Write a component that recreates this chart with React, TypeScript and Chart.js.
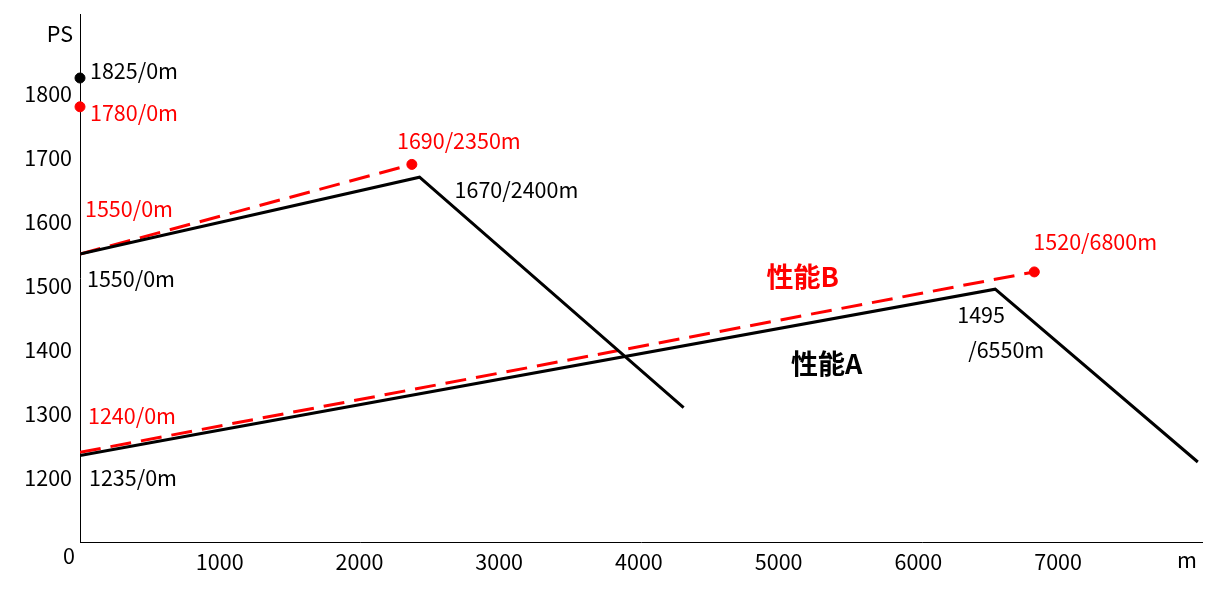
import { useEffect, useRef } from 'react';
import { Chart, ChartConfiguration, Plugin, registerables } from 'chart.js';

Chart.register(...registerables);

// Performance A (black, solid)
const altitudeA1 = [0, 2430, 4320];
const powerA1 = [1550, 1670, 1310];
const altitudeA2 = [0, 6550, 8000];
const powerA2 = [1235, 1495, 1225];

// Performance B (red, dashed)
const altitudeB1 = [0, 2375];
const powerB1 = [1550, 1690];
const altitudeB2 = [0, 6830];
const powerB2 = [1240, 1522];

// Single marked points
const pointAltitudes = [0, 0, 2375, 6830];
const pointPowers = [1825, 1780, 1690, 1522];
const pointColors = ['#000000', '#ff0000', '#ff0000', '#ff0000'];

// Axis ticks
const xTickValues = [1000, 2000, 3000, 4000, 5000, 6000, 7000];
const yTickValues = [1200, 1300, 1400, 1500, 1600, 1700, 1800];

const RED = '#ff0000';
const FONT = '"Noto Sans CJK JP", "Noto Sans", sans-serif';
const TEXT_SIZE = 21.5;

const toXY = (xs: number[], ys: number[]) => xs.map((x, i) => ({ x, y: ys[i] }));

// text labels anchored at data points, shifted by a pixel offset
const annotations = [
  { text: '1825/0m', x: 0, y: 1825, dx: 10, dy: -7, align: 'left', color: '#000', bold: false },
  { text: '1780/0m', x: 0, y: 1780, dx: 10, dy: 6, align: 'left', color: RED, bold: false },
  { text: '1690/2350m', x: 2375, y: 1690, dx: 47, dy: -24, align: 'center', color: RED, bold: false },
  { text: '1670/2400m', x: 2430, y: 1670, dx: 35, dy: 13, align: 'left', color: '#000', bold: false },
  { text: '1550/0m', x: 0, y: 1550, dx: 5, dy: -45, align: 'left', color: RED, bold: false },
  { text: '1550/0m', x: 0, y: 1550, dx: 7, dy: 25, align: 'left', color: '#000', bold: false },
  { text: '1520/6800m', x: 6830, y: 1522, dx: -1, dy: -30, align: 'left', color: RED, bold: false },
  { text: '性能B', x: 5000, y: 1515, dx: 24, dy: 0, align: 'center', color: RED, bold: true },
  { text: '1495', x: 6550, y: 1495, dx: -38, dy: 26, align: 'left', color: '#000', bold: false },
  { text: '/6550m', x: 6550, y: 1495, dx: -27, dy: 61, align: 'left', color: '#000', bold: false },
  { text: '性能A', x: 5000, y: 1378, dx: 48, dy: 0, align: 'center', color: '#000', bold: true },
  { text: '1240/0m', x: 0, y: 1240, dx: 8, dy: -37, align: 'left', color: RED, bold: false },
  { text: '1235/0m', x: 0, y: 1235, dx: 9, dy: 22, align: 'left', color: '#000', bold: false },
];

const labelPlugin: Plugin = {
  id: 'labels',
  afterDatasetsDraw(chart) {
    const { ctx, scales, chartArea } = chart;
    const xs = scales.x;
    const ys = scales.y;
    ctx.save();
    ctx.textBaseline = 'middle';
    annotations.forEach((a) => {
      ctx.font = a.bold ? `bold 27px ${FONT}` : `${TEXT_SIZE}px ${FONT}`;
      ctx.fillStyle = a.color;
      ctx.textAlign = a.align as CanvasTextAlign;
      ctx.fillText(a.text, xs.getPixelForValue(a.x) + a.dx, ys.getPixelForValue(a.y) + a.dy);
    });
    // axis unit captions and origin
    ctx.font = `${TEXT_SIZE}px ${FONT}`;
    ctx.fillStyle = '#000';
    ctx.textAlign = 'right';
    ctx.fillText('PS', chartArea.left - 7, chartArea.top + 20);
    ctx.textAlign = 'center';
    ctx.fillText('0', chartArea.left - 11, chartArea.bottom + 14);
    ctx.fillText('m', chartArea.right - 15, chartArea.bottom + 18);
    ctx.restore();
  },
};

export default function App() {
  const canvasRef = useRef<HTMLCanvasElement>(null);
  const chartRef = useRef<Chart | null>(null);

  useEffect(() => {
    if (!canvasRef.current) return;
    if (chartRef.current) chartRef.current.destroy();
    const ctx = canvasRef.current.getContext('2d');
    if (!ctx) return;

    const solid = (xs: number[], ys: number[]) => ({
      data: toXY(xs, ys),
      borderColor: '#000',
      borderWidth: 3,
      pointRadius: 0,
      showLine: true,
      fill: false,
    });
    const dashed = (xs: number[], ys: number[]) => ({
      data: toXY(xs, ys),
      borderColor: RED,
      borderWidth: 3,
      borderDash: [21, 10],
      pointRadius: 0,
      showLine: true,
      fill: false,
    });

    const config: ChartConfiguration = {
      type: 'scatter',
      data: {
        datasets: [
          solid(altitudeA1, powerA1),
          solid(altitudeA2, powerA2),
          dashed(altitudeB1, powerB1),
          dashed(altitudeB2, powerB2),
          {
            data: toXY(pointAltitudes, pointPowers),
            backgroundColor: pointColors,
            borderColor: pointColors,
            pointRadius: 5,
            showLine: false,
            clip: false,
          },
        ],
      } as any,
      options: {
        responsive: false,
        animation: false,
        layout: { padding: { top: 14, right: 14, left: 0, bottom: 0 } },
        plugins: {
          legend: { display: false },
          tooltip: { enabled: false },
        },
        scales: {
          x: {
            type: 'linear',
            min: 0,
            max: 8030,
            grid: { display: false, drawTicks: false },
            border: { display: true, color: '#000', width: 1 },
            afterBuildTicks: (scale) => {
              scale.ticks = xTickValues.map((value) => ({ value }));
            },
            afterFit: (scale: any) => {
              scale.height = 50;
              scale.paddingLeft = 0;
              scale.paddingRight = 0;
            },
            ticks: {
              color: '#000',
              padding: 7,
              maxRotation: 0,
              autoSkip: false,
              font: { family: FONT, size: TEXT_SIZE },
              callback: (v) => String(v),
            },
          },
          y: {
            type: 'linear',
            min: 1100,
            max: 1925,
            grid: { display: false, drawTicks: false },
            border: { display: true, color: '#000', width: 1 },
            afterBuildTicks: (scale) => {
              scale.ticks = yTickValues.map((value) => ({ value }));
            },
            afterFit: (scale: any) => {
              scale.width = 80;
              scale.paddingTop = 0;
              scale.paddingBottom = 0;
            },
            ticks: {
              color: '#000',
              padding: 8,
              autoSkip: false,
              font: { family: FONT, size: TEXT_SIZE },
              callback: (v) => String(v),
            },
          },
        },
      },
      plugins: [labelPlugin],
    };

    chartRef.current = new Chart(ctx, config);
    return () => {
      if (chartRef.current) {
        chartRef.current.destroy();
        chartRef.current = null;
      }
    };
  }, []);

  return (
    <div style={{ position: 'absolute', left: 0, top: 0, width: 1216, height: 592, background: '#fff' }}>
      <canvas ref={canvasRef} width={1216} height={592}></canvas>
    </div>
  );
}
